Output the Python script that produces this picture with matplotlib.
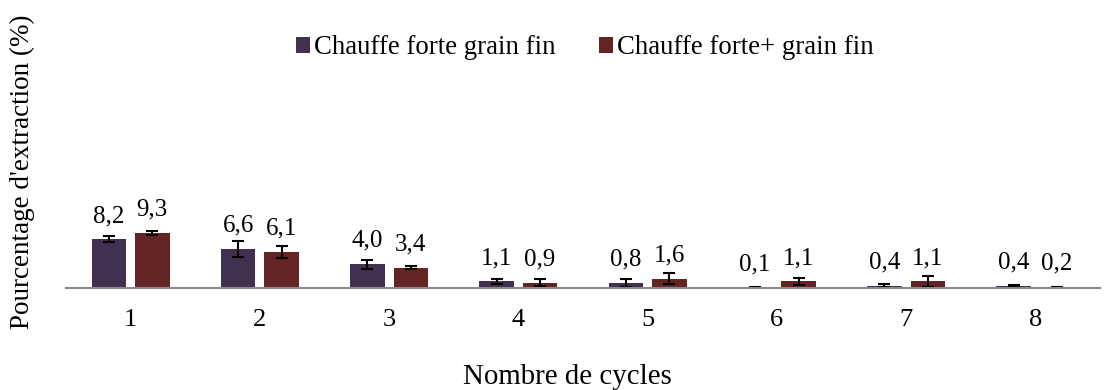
import numpy as np
import matplotlib.pyplot as plt

plt.rcParams['font.family'] = ['Liberation Serif', 'DejaVu Serif']

cycles = ['1', '2', '3', '4', '5', '6', '7', '8']
serie1 = [8.2, 6.6, 4.0, 1.1, 0.8, 0.1, 0.4, 0.4]
serie2 = [9.3, 6.1, 3.4, 0.9, 1.6, 1.1, 1.1, 0.2]
err1 = [0.5, 1.3, 0.75, 0.35, 0.7, 0.05, 0.2, 0.1]
err2 = [0.4, 1.0, 0.25, 0.6, 0.85, 0.55, 0.95, 0.05]
noms = ['Chauffe forte grain fin', 'Chauffe forte+ grain fin']
couleurs = ['#403151', '#632523']

fig = plt.figure(figsize=(11.04, 3.9), dpi=100)
ax = fig.add_axes([66/1104, 1 - 288/390, 1034/1104, 237/390])

x = np.arange(len(cycles))
w = 0.267
dx = 0.168
for vals, errs, c, nom, off in [(serie1, err1, couleurs[0], noms[0], -dx),
                               (serie2, err2, couleurs[1], noms[1], dx)]:
    ax.bar(x + off, vals, w, color=c, label=nom, zorder=2)
    ax.errorbar(x + off, vals, yerr=errs, fmt='none', ecolor='black',
                elinewidth=1.5, capsize=4, capthick=1.5, zorder=3)
    # étiquettes de valeur au-dessus des barres
    for xi, v in zip(x + off, vals):
        ax.annotate(f'{v:.1f}'.replace('.', ','), (xi, v), xytext=(0, 12.5),
                    textcoords='offset points', ha='center', va='baseline',
                    fontsize=18)

ax.set_xlim(-0.5, 7.5)
ax.set_ylim(0, 40)
ax.set_xticks(x)
ax.set_xticklabels(cycles, fontsize=19)
ax.tick_params(axis='x', length=0, pad=15)
ax.set_yticks([])
for s in ['top', 'right', 'left']:
    ax.spines[s].set_visible(False)
ax.spines['bottom'].set_color('#898989')
ax.spines['bottom'].set_linewidth(1.5)
ax.spines['bottom'].set_zorder(4)

fig.text(567/1104, 1 - 377/390, 'Nombre de cycles', ha='center', va='center',
         fontsize=20.8)
fig.text(22/1104, 1 - 172/390, "Pourcentage d'extraction (%)", ha='center',
         va='center', rotation=90, fontsize=19.5)

fig.legend(loc='center', bbox_to_anchor=(585/1104, 1 - 48/390), ncol=2,
           frameon=False, fontsize=19.3, handlelength=0.53, handleheight=0.53,
           handletextpad=0.15, columnspacing=1.6)

fig.savefig('out.png', dpi=100)
